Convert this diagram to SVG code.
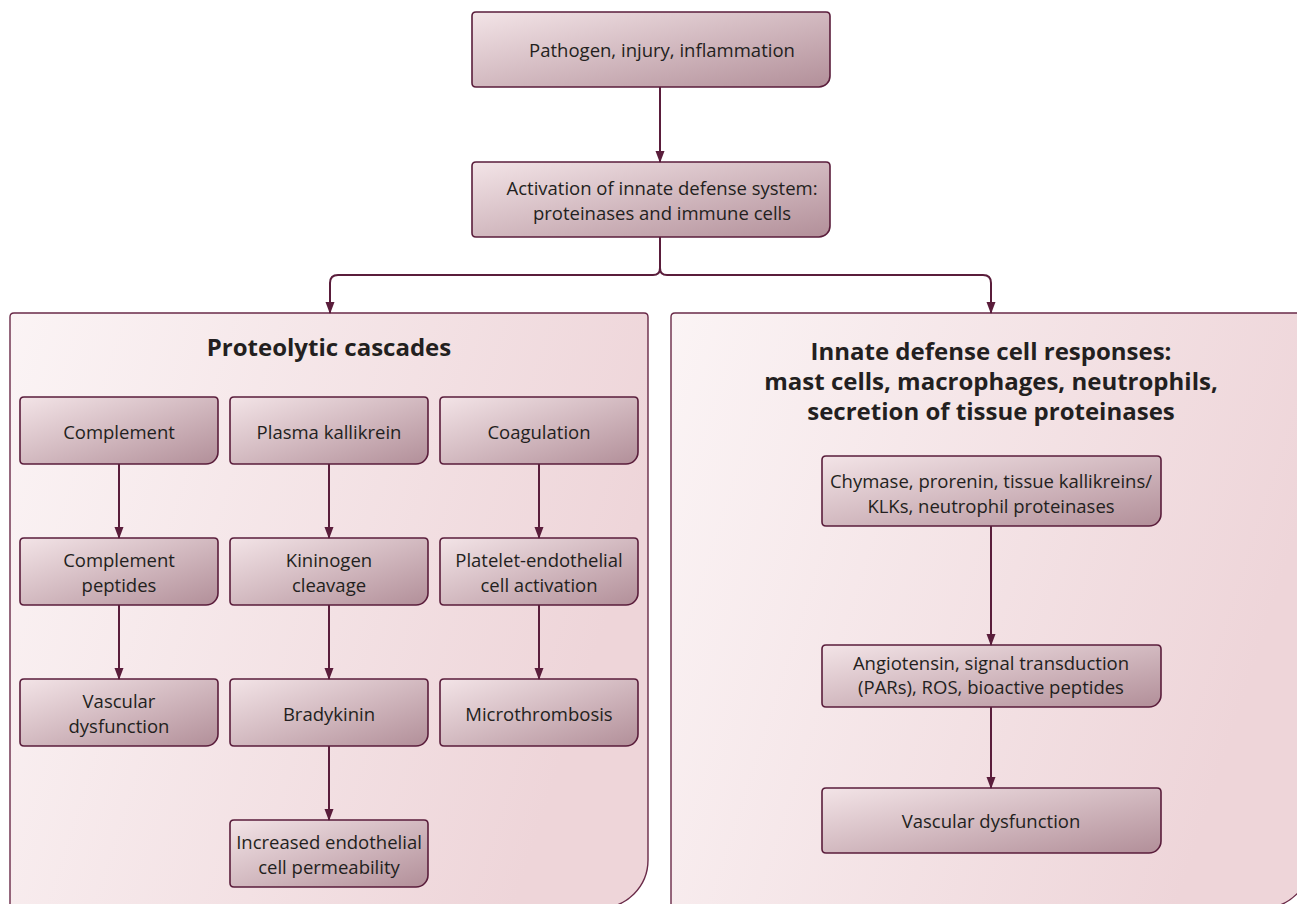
<svg xmlns="http://www.w3.org/2000/svg" width="1297" height="904" viewBox="0 0 1297 904">
<defs>
<linearGradient id="boxg" x1="0" y1="0" x2="1" y2="1">
<stop offset="0" stop-color="#f3e4e7"/>
<stop offset="1" stop-color="#b28f99"/>
</linearGradient>
<linearGradient id="panelg" x1="0" y1="0" x2="1" y2="0.3">
<stop offset="0" stop-color="#fbf4f5"/>
<stop offset="1" stop-color="#eed5d9"/>
</linearGradient>
<marker id="ah" markerWidth="12" markerHeight="10" refX="11" refY="5" orient="auto" markerUnits="userSpaceOnUse">
<path d="M0,0.5 L12,5 L0,9.5 Z" fill="#5a1d3b"/>
</marker>
<style>
.box{fill:url(#boxg);stroke:#5a1d3b;stroke-width:1.6}
.panel{fill:url(#panelg);stroke:#6a2a48;stroke-width:1.4}
.t{font-family:"Open Sans","Liberation Sans",sans-serif;font-size:18.5px;fill:#231f20;text-anchor:middle}
.h{font-family:"Open Sans","Liberation Sans",sans-serif;font-size:24px;font-weight:bold;fill:#231f20;text-anchor:middle}
.c{fill:none;stroke:#5a1d3b;stroke-width:2}
</style>
</defs>

<g id="panel-left">
<path class="panel" d="M10,317 Q10,313 14,313 L644,313 Q648,313 648,317 L648,860 A48,48 0 0 1 600,908 L10,908 Z"/>
<text class="h" x="329" y="356">Proteolytic cascades</text>
</g>
<g id="panel-right">
<path class="panel" d="M671,317 Q671,313 675,313 L1311,313 L1311,860 A48,48 0 0 1 1263,908 L671,908 Z"/>
<text class="h" x="991" y="360">Innate defense cell responses:</text>
<text class="h" x="991" y="390">mast cells, macrophages, neutrophils,</text>
<text class="h" x="991" y="420">secretion of tissue proteinases</text>
</g>

<g id="n-pathogen">
<path class="box" d="M476,12 L826,12 Q830,12 830,16 L830,76 A11,11 0 0 1 819,87 L476,87 Q472,87 472,83 L472,16 Q472,12 476,12 Z"/>
<text class="t" x="662" y="57">Pathogen, injury, inflammation</text>
</g>
<g id="n-activation">
<path class="box" d="M476,162 L826,162 Q830,162 830,166 L830,226 A11,11 0 0 1 819,237 L476,237 Q472,237 472,233 L472,166 Q472,162 476,162 Z"/>
<text class="t" x="662" y="195">Activation of innate defense system:</text>
<text class="t" x="662" y="220">proteinases and immune cells</text>
</g>

<g id="n-complement">
<path class="box" d="M24,397 L214,397 Q218,397 218,401 L218,452 A12,12 0 0 1 206,464 L24,464 Q20,464 20,460 L20,401 Q20,397 24,397 Z"/>
<text class="t" x="119" y="439">Complement</text>
</g>
<g id="n-plasma-kallikrein">
<path class="box" d="M234,397 L424,397 Q428,397 428,401 L428,452 A12,12 0 0 1 416,464 L234,464 Q230,464 230,460 L230,401 Q230,397 234,397 Z"/>
<text class="t" x="329" y="439">Plasma kallikrein</text>
</g>
<g id="n-coagulation">
<path class="box" d="M444,397 L634,397 Q638,397 638,401 L638,452 A12,12 0 0 1 626,464 L444,464 Q440,464 440,460 L440,401 Q440,397 444,397 Z"/>
<text class="t" x="539" y="439">Coagulation</text>
</g>

<g id="n-complement-peptides">
<path class="box" d="M24,538 L214,538 Q218,538 218,542 L218,593 A12,12 0 0 1 206,605 L24,605 Q20,605 20,601 L20,542 Q20,538 24,538 Z"/>
<text class="t" x="119" y="567">Complement</text>
<text class="t" x="119" y="592">peptides</text>
</g>
<g id="n-kininogen">
<path class="box" d="M234,538 L424,538 Q428,538 428,542 L428,593 A12,12 0 0 1 416,605 L234,605 Q230,605 230,601 L230,542 Q230,538 234,538 Z"/>
<text class="t" x="329" y="567">Kininogen</text>
<text class="t" x="329" y="592">cleavage</text>
</g>
<g id="n-platelet">
<path class="box" d="M444,538 L634,538 Q638,538 638,542 L638,593 A12,12 0 0 1 626,605 L444,605 Q440,605 440,601 L440,542 Q440,538 444,538 Z"/>
<text class="t" x="539" y="567">Platelet-endothelial</text>
<text class="t" x="539" y="592">cell activation</text>
</g>

<g id="n-vascular-left">
<path class="box" d="M24,679 L214,679 Q218,679 218,683 L218,734 A12,12 0 0 1 206,746 L24,746 Q20,746 20,742 L20,683 Q20,679 24,679 Z"/>
<text class="t" x="119" y="708">Vascular</text>
<text class="t" x="119" y="733">dysfunction</text>
</g>
<g id="n-bradykinin">
<path class="box" d="M234,679 L424,679 Q428,679 428,683 L428,734 A12,12 0 0 1 416,746 L234,746 Q230,746 230,742 L230,683 Q230,679 234,679 Z"/>
<text class="t" x="329" y="721">Bradykinin</text>
</g>
<g id="n-microthrombosis">
<path class="box" d="M444,679 L634,679 Q638,679 638,683 L638,734 A12,12 0 0 1 626,746 L444,746 Q440,746 440,742 L440,683 Q440,679 444,679 Z"/>
<text class="t" x="539" y="721">Microthrombosis</text>
</g>

<g id="n-increased">
<path class="box" d="M234,820 L424,820 Q428,820 428,824 L428,875 A12,12 0 0 1 416,887 L234,887 Q230,887 230,883 L230,824 Q230,820 234,820 Z"/>
<text class="t" x="329" y="849">Increased endothelial</text>
<text class="t" x="329" y="874">cell permeability</text>
</g>

<g id="n-chymase">
<path class="box" d="M826,456 L1157,456 Q1161,456 1161,460 L1161,514 A12,12 0 0 1 1149,526 L826,526 Q822,526 822,522 L822,460 Q822,456 826,456 Z"/>
<text class="t" x="991" y="488">Chymase, prorenin, tissue kallikreins/</text>
<text class="t" x="991" y="513">KLKs, neutrophil proteinases</text>
</g>
<g id="n-angiotensin">
<path class="box" d="M826,645 L1157,645 Q1161,645 1161,649 L1161,695 A12,12 0 0 1 1149,707 L826,707 Q822,707 822,703 L822,649 Q822,645 826,645 Z"/>
<text class="t" x="991" y="670">Angiotensin, signal transduction</text>
<text class="t" x="991" y="694">(PARs), ROS, bioactive peptides</text>
</g>
<g id="n-vascular-right">
<path class="box" d="M826,788 L1157,788 Q1161,788 1161,792 L1161,841 A12,12 0 0 1 1149,853 L826,853 Q822,853 822,849 L822,792 Q822,788 826,788 Z"/>
<text class="t" x="991" y="828">Vascular dysfunction</text>
</g>

<g id="connectors">
<line class="c" x1="660" y1="87" x2="660" y2="162" marker-end="url(#ah)"/>
<path class="c" d="M660,237 L660,268 Q660,275 653,275 L338,275 Q330,275 330,283 L330,313" marker-end="url(#ah)"/>
<path class="c" d="M660,268 Q660,275 667,275 L983,275 Q991,275 991,283 L991,313" marker-end="url(#ah)"/>
<line class="c" x1="119" y1="464" x2="119" y2="538" marker-end="url(#ah)"/>
<line class="c" x1="329" y1="464" x2="329" y2="538" marker-end="url(#ah)"/>
<line class="c" x1="539" y1="464" x2="539" y2="538" marker-end="url(#ah)"/>
<line class="c" x1="119" y1="605" x2="119" y2="679" marker-end="url(#ah)"/>
<line class="c" x1="329" y1="605" x2="329" y2="679" marker-end="url(#ah)"/>
<line class="c" x1="539" y1="605" x2="539" y2="679" marker-end="url(#ah)"/>
<line class="c" x1="329" y1="746" x2="329" y2="820" marker-end="url(#ah)"/>
<line class="c" x1="991" y1="526" x2="991" y2="645" marker-end="url(#ah)"/>
<line class="c" x1="991" y1="707" x2="991" y2="788" marker-end="url(#ah)"/>
</g>
</svg>
